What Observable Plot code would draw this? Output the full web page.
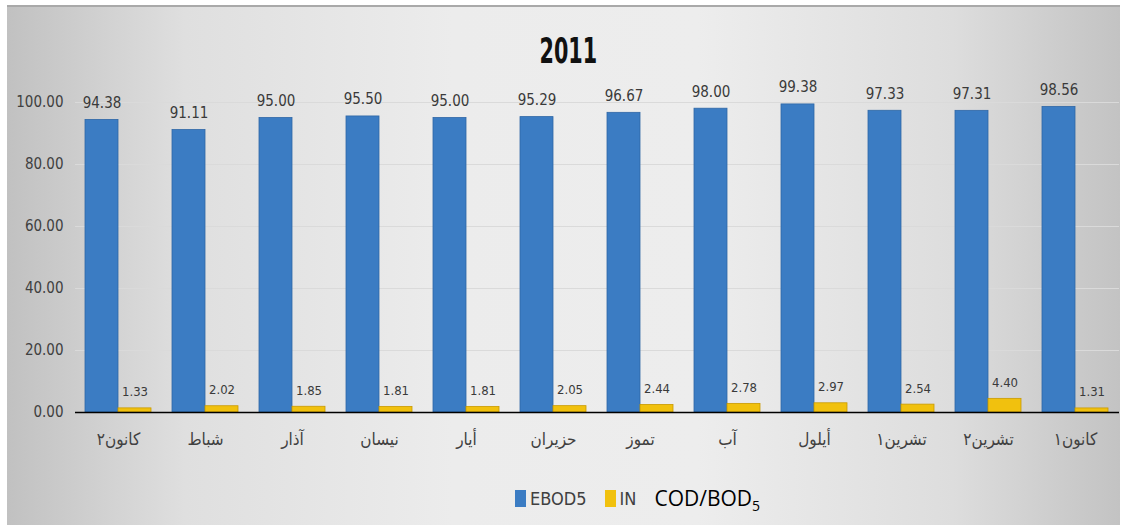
<!DOCTYPE html>
<html>
<head>
<meta charset="utf-8">
<script src="https://cdn.jsdelivr.net/npm/d3@7"></script>
<script src="https://cdn.jsdelivr.net/npm/@observablehq/plot@0.6"></script>
<style>
  body { margin: 0; background: #fff; }
  #wrap { position: relative; width: 1127px; height: 532px; overflow: hidden; }
  #frame { position: absolute; left: 7px; top: 5px; width: 1113px; height: 520px;
    background: linear-gradient(to right, #c1c1c1 0%, #dfdfdf 16%, #ececec 40%, #ededed 62%, #dddddd 85%, #c3c3c3 100%);
    border-top: 2px solid #a9a9a9; box-sizing: border-box; }
  #chart { position: absolute; left: 0; top: 0; }
  #title { position: absolute; left: 0; width: 1137px; top: 30px; text-align: center;
    font-family: "DejaVu Sans Condensed", "DejaVu Sans", sans-serif; font-stretch: condensed; font-weight: bold; font-size: 36px; color: #111;
    transform: scaleX(0.64); transform-origin: 568px 0; }
  #legend { position: absolute; left: 515px; top: 484px; display: flex; align-items: center; height: 28px; }
  .sw { display: inline-block; width: 11px; height: 17px; margin-right: 4px; }
  .lt { font-family: "DejaVu Sans Condensed", "DejaVu Sans", sans-serif; font-stretch: condensed; font-size: 18px; color: #404040; margin-right: 18px; }
  .unit { font-family: "Open Sans", "Noto Sans", sans-serif; font-size: 21px; color: #000; }
  .unit sub { font-size: 14px; vertical-align: -5px; line-height: 0; }
  g[aria-label="x-axis"] text, g[aria-label="x-axis tick label"] text { font-size: 17px; }
</style>
</head>
<body>
<div id="wrap">
  <div id="frame"></div>
  <div id="chart"></div>
  <div id="title"></div>
  <div id="legend"></div>
</div>
<script>
// ---- data ----
const title = "2011";
const months = ["كانون٢", "شباط", "آذار", "نيسان", "أيار", "حزيران", "تموز", "آب", "أيلول", "تشرين١", "تشرين٢", "كانون١"];
const ebod5 = [94.38, 91.11, 95.00, 95.50, 95.00, 95.29, 96.67, 98.00, 99.38, 97.33, 97.31, 98.56];
const inValues = [1.33, 2.02, 1.85, 1.81, 1.81, 2.05, 2.44, 2.78, 2.97, 2.54, 4.40, 1.31];
const seriesNames = ["EBOD5", "IN"];
const seriesColors = ["#3b7cc3", "#f1c10e"];
const yTicks = [0, 20, 40, 60, 80, 100];
const unitText = "COD/BOD";
const unitSub = "5";

// ---- build table ----
const blueRows = months.map((m, i) => ({ month: m, series: seriesNames[0], value: ebod5[i] }));
const yellowRows = months.map((m, i) => ({ month: m, series: seriesNames[1], value: inValues[i] }));

const font = '"DejaVu Sans Condensed", "DejaVu Sans", sans-serif';

const chart = Plot.plot({
  width: 1127,
  height: 532,
  marginLeft: 75,
  marginRight: 8,
  marginTop: 102,
  marginBottom: 120,
  style: { background: "transparent", fontFamily: font, fontStretch: "condensed", fontSize: "15px", color: "#404040", overflow: "visible" },
  x: { domain: months, paddingInner: 0.24, paddingOuter: 0.12, label: null, tickSize: 0, tickPadding: 20 },
  y: { domain: [0, 100], ticks: yTicks, tickFormat: d => d.toFixed(2), label: null, tickSize: 0, tickPadding: 12 },
  color: { domain: seriesNames, range: seriesColors },
  marks: [
    Plot.ruleY(yTicks.filter(t => t > 0), { stroke: "#dadada", strokeWidth: 1 }),
    Plot.barY(blueRows, { x: "month", y: "value", fill: "series", insetRight: 33, stroke: "#2f67a6", strokeWidth: 0.8 }),
    Plot.barY(yellowRows, { x: "month", y: "value", fill: "series", insetLeft: 33, stroke: "#c99a00", strokeWidth: 0.8 }),
    Plot.text(blueRows, { x: "month", y: "value", text: d => d.value.toFixed(2), dx: -16.5, dy: -12, lineAnchor: "bottom", fontSize: 15, fill: "#3a3a3a" }),
    Plot.text(yellowRows, { x: "month", y: "value", text: d => d.value.toFixed(2), dx: 16.5, dy: -12, lineAnchor: "bottom", fontSize: 13, fill: "#3a3a3a" }),
    Plot.ruleY([0], { stroke: "#000", strokeWidth: 1.5 })
  ]
});
document.getElementById("chart").appendChild(chart);
document.getElementById("title").textContent = title;

// ---- legend ----
const legend = document.getElementById("legend");
seriesNames.forEach((name, i) => {
  const sw = document.createElement("span");
  sw.className = "sw";
  sw.style.background = seriesColors[i];
  legend.appendChild(sw);
  const t = document.createElement("span");
  t.className = "lt";
  t.textContent = name;
  legend.appendChild(t);
});
const unit = document.createElement("span");
unit.className = "unit";
unit.textContent = unitText;
const sub = document.createElement("sub");
sub.textContent = unitSub;
unit.appendChild(sub);
legend.appendChild(unit);
</script>
</body>
</html>
